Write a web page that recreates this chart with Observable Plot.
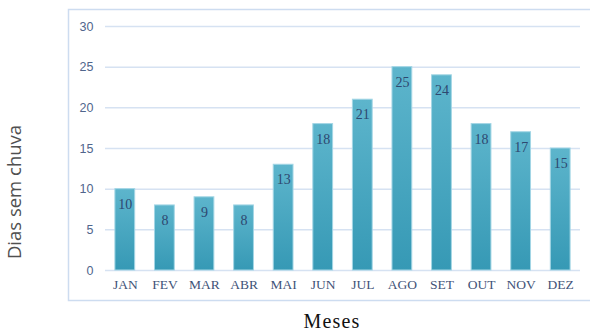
<!DOCTYPE html>
<html><head><meta charset="utf-8">
<script src="https://cdn.jsdelivr.net/npm/d3@7"></script>
<script src="https://cdn.jsdelivr.net/npm/@observablehq/plot@0.6"></script>
<style>body{margin:0;background:#fff;overflow:hidden;}</style>
</head><body><div id="chart"></div>
<script>
const months = ["JAN","FEV","MAR","ABR","MAI","JUN","JUL","AGO","SET","OUT","NOV","DEZ"];
const days = [10, 8, 9, 8, 13, 18, 21, 25, 24, 18, 17, 15];
const yTicks = [0, 5, 10, 15, 20, 25, 30];
const yLabel = "Dias sem chuva";
const xLabel = "Meses";

const data = months.map((m, i) => ({month: m, days: days[i]}));

const chart = Plot.plot({
  width: 590, height: 332,
  marginLeft: 105, marginRight: 10, marginTop: 26, marginBottom: 62,
  style: {background: "#fff", overflow: "visible"},
  x: {domain: months, paddingInner: 0.5, paddingOuter: 0.25, round: false, label: null},
  y: {domain: [0, 30], ticks: yTicks, label: null},
  marks: [
    Plot.frame({stroke: "#cddcf0", strokeWidth: 1.5, insetLeft: -37, insetTop: -17, insetBottom: -30, insetRight: -20}),
    Plot.gridY(yTicks, {stroke: "#d6e2f2", strokeOpacity: 1, strokeWidth: 1.5}),
    Plot.barY(data, {x: "month", y: "days", fill: "url(#barGrad)", stroke: "#a3d6e5", strokeWidth: 1}),
    Plot.text(data, {x: "month", y: "days", text: d => String(d.days), dy: 15, fill: "#2e4870", fontFamily: "Liberation Serif", fontSize: 14}),
    Plot.axisY(yTicks, {tickSize: 0, tickPadding: 12, fontSize: 12.5, fontFamily: "Liberation Sans", fill: "#50658c", label: null}),
    Plot.axisX({tickSize: 0, tickPadding: 9, fontSize: 13.5, fontFamily: "Liberation Serif", fill: "#3f5378", label: null})
  ]
});

const svg = d3.select(chart);
const defs = svg.insert("defs", ":first-child");
const g = defs.append("linearGradient").attr("id", "barGrad").attr("x1", 0).attr("y1", 0).attr("x2", 0).attr("y2", 1);
g.append("stop").attr("offset", "0%").attr("stop-color", "#5db5cc");
g.append("stop").attr("offset", "100%").attr("stop-color", "#3699b5");

svg.append("text")
  .attr("transform", "translate(16,192) rotate(-90)")
  .attr("text-anchor", "middle").attr("dominant-baseline", "middle")
  .attr("font-family", "Open Sans").attr("font-size", 18.5).attr("fill", "#505050")
  .text(yLabel);
svg.append("text")
  .attr("x", 332).attr("y", 328)
  .attr("text-anchor", "middle")
  .attr("font-family", "Liberation Serif").attr("font-size", 20).attr("letter-spacing", 1.2).attr("fill", "#111")
  .text(xLabel);

document.getElementById("chart").appendChild(chart);
</script>
</body></html>
